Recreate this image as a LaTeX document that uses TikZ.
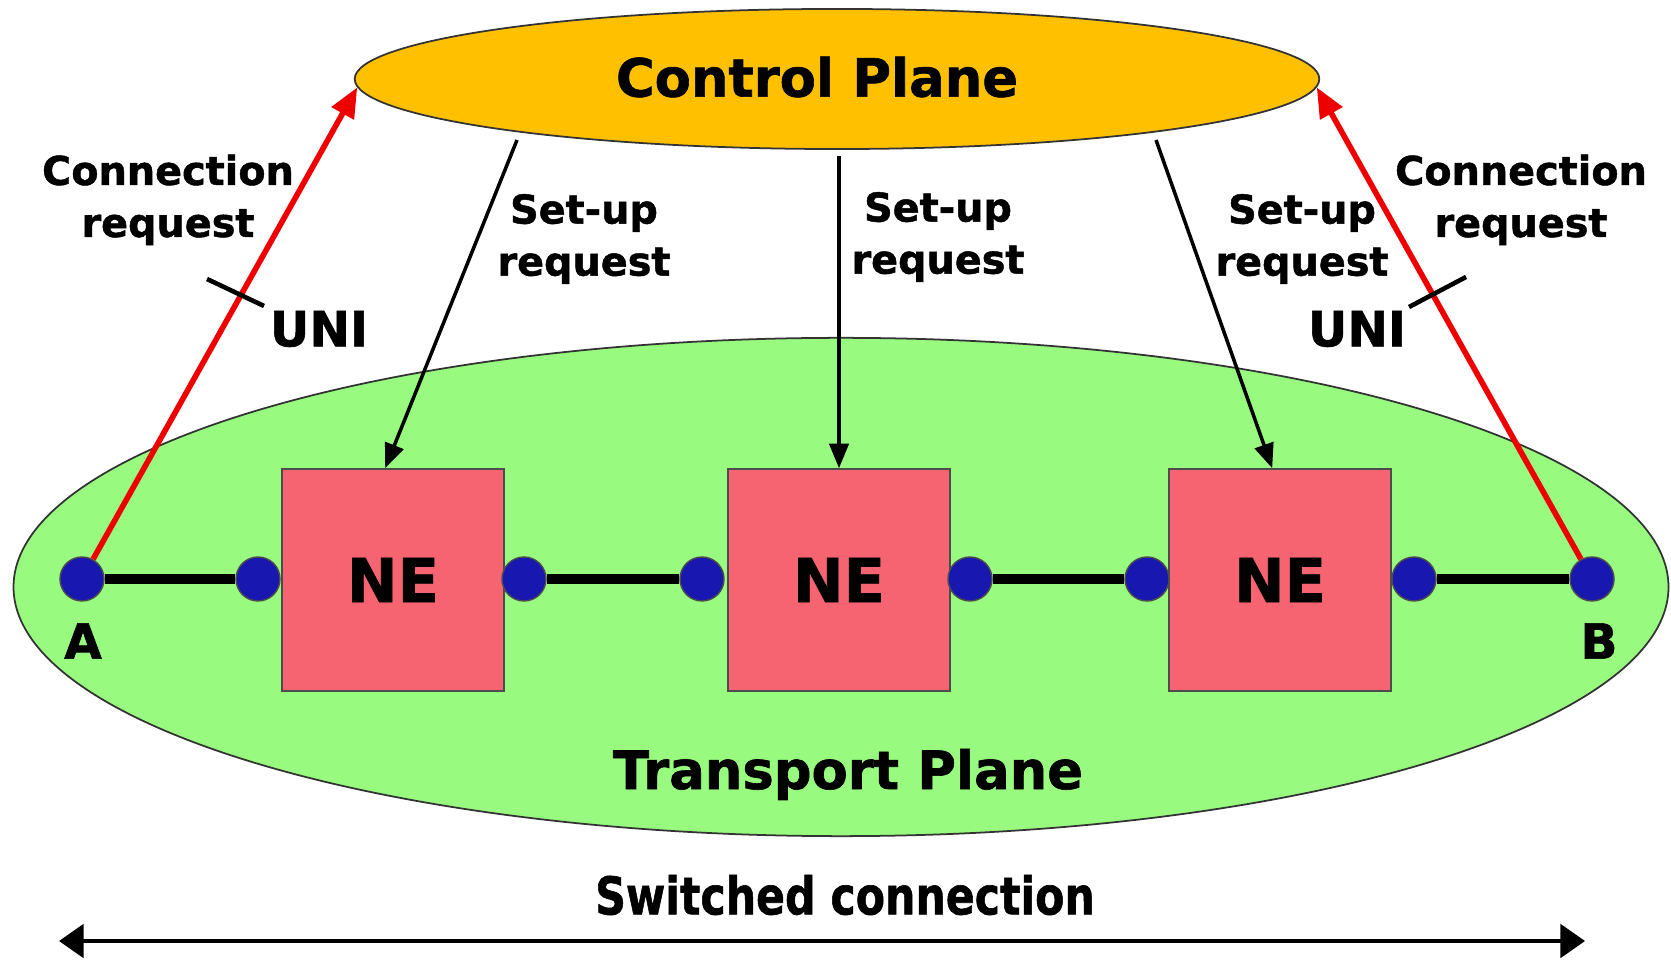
\documentclass[tikz,border=0pt]{standalone}
\usepackage{fontspec}
\setmainfont[BoldFeatures={FakeBold=1.2}]{DejaVu Sans}
\usepackage{tikz}
\usetikzlibrary{shapes.geometric,arrows.meta}
\definecolor{cpyellow}{RGB}{255,192,0}
\definecolor{tpgreen}{RGB}{152,251,128}
\definecolor{nered}{RGB}{245,100,112}
\definecolor{portblue}{RGB}{24,24,176}
\definecolor{reqred}{RGB}{238,0,0}

\begin{document}
\begin{tikzpicture}[x=0.01cm,y=-0.01cm,
    plane/.style={ellipse,draw=black!80,line width=0.5pt,inner sep=0pt},
    nebox/.style={rectangle,draw=black!70,fill=nered,minimum size=2.22cm,inner sep=0pt,font=\fontsize{17.2}{20}\selectfont\bfseries},
    port/.style={circle,draw=black!70,fill=portblue,minimum size=0.44cm,inner sep=0pt},
    link/.style={line width=2.6pt},
    reqarrow/.style={draw=reqred,line width=1.6pt,-{Triangle[length=8.5pt,width=7pt]}},
    setuparrow/.style={line width=1pt,-{Triangle[length=7pt,width=5.5pt]}},
    unitick/.style={line width=1.3pt},
    lbl/.style={align=center,font=\fontsize{11.3}{14.8}\selectfont\bfseries},
    biglbl/.style={font=\fontsize{15}{18}\selectfont\bfseries},
    endlbl/.style={font=\fontsize{13.8}{16}\selectfont\bfseries}]
    \useasboundingbox (0,0) rectangle (1671,962);
    %PLANES
    \node[plane,fill=tpgreen,minimum width=16.54cm,minimum height=4.98cm] (tp) at (841,587) {};
    \node[plane,fill=cpyellow,minimum width=9.64cm,minimum height=1.40cm] (cp) at (837,79) {};
    \node[biglbl] (cptext) at (817,77) {Control Plane};
    \node[biglbl,anchor=base] (tptext) at (848,789) {Transport Plane};
    %NE BOXES
    \node[nebox] (ne1) at (393,580) {NE};
    \node[nebox] (ne2) at (839,580) {NE};
    \node[nebox] (ne3) at (1280,580) {NE};
    %PORTS
    \node[port] (a) at (82,579) {};
    \node[port] (p1) at (258,579) {};
    \node[port] (p2) at (524,579) {};
    \node[port] (p3) at (702,579) {};
    \node[port] (p4) at (970,579) {};
    \node[port] (p5) at (1147,579) {};
    \node[port] (p6) at (1414,579) {};
    \node[port] (b) at (1592,579) {};
    \node[endlbl] (alabel) at (83,641) {A};
    \node[endlbl] (blabel) at (1599,641) {B};
    %LINKS
    \draw[link] (a) -- (p1);
    \draw[link] (p2) -- (p3);
    \draw[link] (p4) -- (p5);
    \draw[link] (p6) -- (b);
    %CONNECTION REQUESTS
    \draw[reqarrow] (a) -- (cp.181);
    \draw[reqarrow] (b) -- (cp.359);
    \draw[unitick] (207,279) -- (264,306);
    \draw[unitick] (1409,307) -- (1466,277);
    \node[lbl] (creq1) at (168,200) {Connection\\request};
    \node[lbl] (creq2) at (1521,200) {Connection\\request};
    \node[endlbl] (uni1) at (319,329) {UNI};
    \node[endlbl] (uni2) at (1357,329) {UNI};
    %SET-UP REQUESTS
    \coordinate (s1) at (517,140);
    \coordinate (s2) at (839,156);
    \coordinate (s3) at (1156,140);
    \draw[setuparrow] (s1) -- (ne1.94);
    \draw[setuparrow] (s2) -- (ne2.north);
    \draw[setuparrow] (s3) -- (ne3.94);
    \node[lbl] (sreq1) at (584,239) {Set-up\\request};
    \node[lbl] (sreq2) at (938,237) {Set-up\\request};
    \node[lbl] (sreq3) at (1302,239) {Set-up\\request};
    %SWITCHED CONNECTION
    \coordinate (sl) at (59,941);
    \coordinate (sr) at (1585,941);
    \draw[line width=1.1pt,{Triangle[length=7pt,width=9.5pt]}-{Triangle[length=7pt,width=9.5pt]}] (sl) -- (sr);
    \node[font=\fontsize{14.8}{18}\selectfont\bfseries] (swtext) at (845,895) {\scalebox{0.82}[1]{Switched connection}};
\end{tikzpicture}
\end{document}
